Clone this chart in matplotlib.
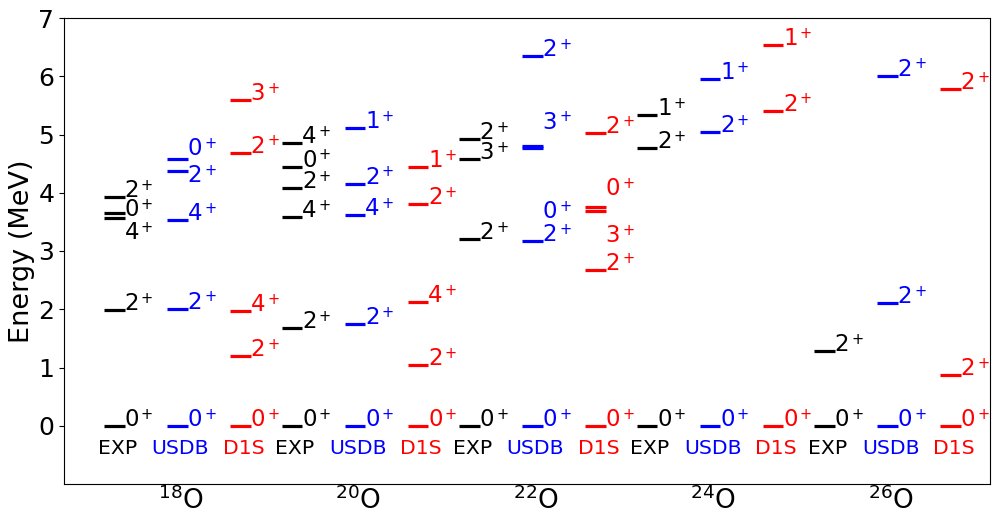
import matplotlib.pyplot as plt

nuclei = [r'$^{18}$O', r'$^{20}$O', r'$^{22}$O', r'$^{24}$O', r'$^{26}$O']
models = ['EXP', 'USDB', 'D1S']
colors = ['k', 'b', 'r']

# level energies (MeV) per nucleus
E_exp = [[0, 1.98, 3.56, 3.66, 3.92],
         [0, 1.68, 3.58, 4.08, 4.45, 4.85],
         [0, 3.21, 4.58, 4.92],
         [0, 4.76, 5.33],
         [0, 1.28]]
J_exp = [['0', '2', '4', '0', '2'],
         ['0', '2', '4', '2', '0', '4'],
         ['0', '2', '3', '2'],
         ['0', '2', '1'],
         ['0', '2']]
# heights of the spin labels (moved where levels crowd)
L_exp = [[0, 1.98, 3.20, 3.60, 3.92],
         [0, 1.68, 3.58, 4.08, 4.45, 4.85],
         [0, 3.21, 4.58, 4.92],
         [0, 4.76, 5.33],
         [0, 1.28]]

E_usdb = [[0, 2.01, 3.53, 4.37, 4.58],
          [0, 1.75, 3.62, 4.155, 5.11],
          [0, 3.17, 4.765, 4.80, 6.35],
          [0, 5.04, 5.95],
          [0, 2.11, 6.01]]
J_usdb = [['0', '2', '4', '2', '0'],
          ['0', '2', '4', '2', '1'],
          ['0', '2', '0', '3', '2'],
          ['0', '2', '1'],
          ['0', '2', '2']]
L_usdb = [[0, 2.01, 3.53, 4.18, 4.64],
          [0, 1.75, 3.62, 4.155, 5.11],
          [0, 3.17, 3.56, 5.10, 6.35],
          [0, 5.04, 5.95],
          [0, 2.11, 6.01]]

E_d1s = [[0, 1.19, 1.97, 4.69, 5.59],
         [0, 1.04, 2.12, 3.80, 4.44],
         [0, 2.67, 3.69, 3.76, 5.02],
         [0, 5.41, 6.54],
         [0, 0.87, 5.78]]
J_d1s = [['0', '2', '4', '2', '3'],
         ['0', '2', '4', '2', '1'],
         ['0', '2', '3', '0', '2'],
         ['0', '2', '1'],
         ['0', '2', '2']]
L_d1s = [[0, 1.19, 1.97, 4.69, 5.59],
         [0, 1.04, 2.12, 3.80, 4.44],
         [0, 2.67, 3.15, 3.955, 5.02],
         [0, 5.41, 6.54],
         [0, 0.87, 5.78]]

all_E = [E_exp, E_usdb, E_d1s]
all_J = [J_exp, J_usdb, J_d1s]
all_L = [L_exp, L_usdb, L_d1s]

fig = plt.figure(figsize=(9.92, 5.09), dpi=100)
ax = fig.add_axes([64/992, 25/509, 926/992, 466/509])

offsets = [-1.065, 0, 1.065]
for k in range(len(nuclei)):
    for m in range(3):
        c = 3*k + offsets[m]
        x0, x1 = c - 0.225, c + 0.12
        for E, J, L in zip(all_E[m][k], all_J[m][k], all_L[m][k]):
            ax.hlines(E, x0, x1, colors=colors[m], lw=2.3)
            ax.text(x1, L, J, color=colors[m], fontsize=16.5,
                    ha='left', va='baseline')
            # parity as a small raised sign
            ax.annotate('+', xy=(x1, L), xytext=(11.8, 5.2),
                        textcoords='offset points', color=colors[m],
                        fontsize=10.5, ha='left', va='baseline')
        ax.text(c, -0.49, models[m], color=colors[m], fontsize=14.7,
                ha='center', va='baseline')

ax.set_xlim(-1.969, 13.68)
ax.set_ylim(-1, 7)
ax.set_xticks([0, 3, 6, 9, 12])
ax.set_xticklabels(nuclei, fontsize=19)
ax.set_yticks(range(8))
ax.tick_params(axis='x', length=0, pad=1.5)
ax.tick_params(axis='y', labelsize=18)
ax.set_ylabel('Energy (MeV)', fontsize=19.5, labelpad=2)

fig.savefig('out.png', dpi=100)
